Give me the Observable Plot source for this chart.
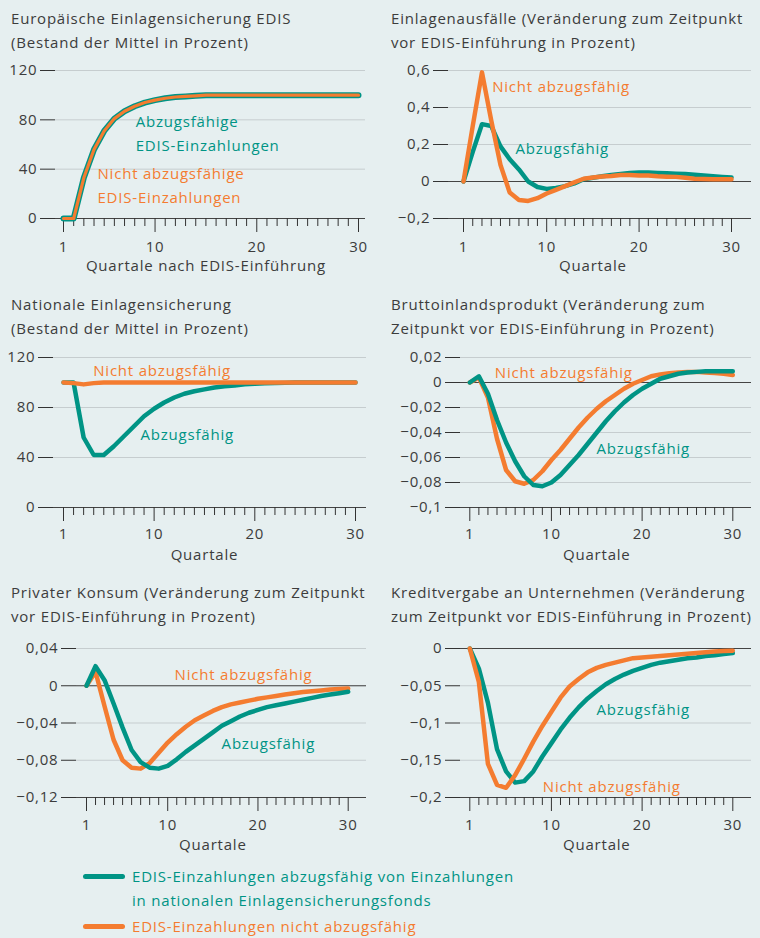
<!DOCTYPE html>
<html><head><meta charset="utf-8">
<script src="https://cdn.jsdelivr.net/npm/d3@7"></script>
<script src="https://cdn.jsdelivr.net/npm/@observablehq/plot@0.6"></script>
<style>
html,body{margin:0;padding:0;}
body{background:#e6eff0;width:760px;height:938px;position:relative;overflow:hidden;font-family:"Open Sans",sans-serif;letter-spacing:0.8px;}
.title{position:absolute;font-size:15px;line-height:24px;color:#3c3c3c;white-space:nowrap;}
.panel{position:absolute;}
.leg{position:absolute;font-size:15px;line-height:24px;white-space:nowrap;}
.legline{position:absolute;height:5px;border-radius:3px;width:42px;left:83px;}
</style></head><body>
<script>
const TEAL = "#009485", ORANGE = "#f47c30";

// x categories: quarters after EDIS introduction
const quarters = [1,2,3,4,5,6,7,8,9,10,11,12,13,14,15,16,17,18,19,20,21,22,23,24,25,26,27,28,29,30];
const majorTicks = [1, 10, 20, 30];
const minorTicks = [2,3,4,5,6,7,8,9,11,12,13,14,15,16,17,18,19,21,22,23,24,25,26,27,28,29];

// Panel 1: Europäische Einlagensicherung EDIS
const edisAbz   = [0,0,33,56,71,81,87,91,94,96,97.5,98.5,99,99.5,100,100,100,100,100,100,100,100,100,100,100,100,100,100,100,100];
const edisNicht = [0,0,33,56,71,81,87,91,94,96,97.5,98.5,99,99.5,100,100,100,100,100,100,100,100,100,100,100,100,100,100,100,100];
const edisTicks = [0, 40, 80, 120];

// Panel 2: Einlagenausfälle
const ausfAbz   = [0,0.16,0.31,0.30,0.19,0.12,0.065,0.0,-0.03,-0.04,-0.035,-0.025,-0.01,0.012,0.02,0.028,0.035,0.04,0.046,0.048,0.048,0.046,0.044,0.042,0.04,0.036,0.032,0.028,0.025,0.022];
const ausfNicht = [0,0.3,0.59,0.33,0.09,-0.06,-0.1,-0.105,-0.09,-0.065,-0.045,-0.025,-0.005,0.015,0.022,0.027,0.03,0.035,0.035,0.033,0.032,0.028,0.026,0.025,0.02,0.015,0.013,0.012,0.012,0.012];
const ausfTicks = [-0.2, 0, 0.2, 0.4, 0.6];

// Panel 3: Nationale Einlagensicherung
const natAbz   = [100,100,56,42,42,49,57,65,73,79,84,88,91,93,94.5,96,97,97.5,98.5,99,99.3,99.5,99.7,100,100,100,100,100,100,100];
const natNicht = [100,99.5,98.5,99.5,100,100,100,100,100,100,100,100,100,100,100,100,100,100,100,100,100,100,100,100,100,100,100,100,100,100];
const natTicks = [0, 40, 80, 120];

// Panel 4: Bruttoinlandsprodukt
const bipAbz   = [0,0.005,-0.009,-0.03,-0.048,-0.063,-0.075,-0.082,-0.083,-0.08,-0.074,-0.066,-0.058,-0.049,-0.04,-0.031,-0.023,-0.016,-0.01,-0.005,-0.001,0.003,0.005,0.007,0.008,0.0085,0.009,0.009,0.009,0.009];
const bipNicht = [0,0.004,-0.012,-0.045,-0.07,-0.079,-0.081,-0.078,-0.071,-0.062,-0.054,-0.045,-0.036,-0.028,-0.021,-0.015,-0.01,-0.005,-0.001,0.002,0.005,0.0065,0.0075,0.008,0.0085,0.0085,0.008,0.0075,0.007,0.006];
const bipTicks = [-0.1, -0.08, -0.06, -0.04, -0.02, 0, 0.02];

// Panel 5: Privater Konsum
const konAbz   = [0,0.021,0.006,-0.019,-0.045,-0.069,-0.082,-0.088,-0.089,-0.086,-0.079,-0.071,-0.064,-0.057,-0.05,-0.043,-0.038,-0.033,-0.029,-0.026,-0.023,-0.021,-0.019,-0.017,-0.015,-0.013,-0.011,-0.0095,-0.008,-0.0065];
const konNicht = [0,0.015,-0.022,-0.058,-0.08,-0.088,-0.089,-0.083,-0.072,-0.061,-0.052,-0.044,-0.037,-0.032,-0.027,-0.023,-0.02,-0.018,-0.016,-0.014,-0.0125,-0.011,-0.0095,-0.008,-0.0068,-0.0058,-0.005,-0.004,-0.0035,-0.003];
const konTicks = [-0.12, -0.08, -0.04, 0, 0.04];

// Panel 6: Kreditvergabe an Unternehmen
const kredAbz   = [0,-0.027,-0.073,-0.135,-0.165,-0.18,-0.178,-0.165,-0.145,-0.127,-0.109,-0.093,-0.079,-0.067,-0.057,-0.048,-0.041,-0.035,-0.03,-0.026,-0.022,-0.019,-0.017,-0.015,-0.013,-0.012,-0.01,-0.009,-0.0075,-0.006];
const kredNicht = [0,-0.045,-0.155,-0.183,-0.187,-0.17,-0.148,-0.125,-0.104,-0.085,-0.066,-0.051,-0.041,-0.032,-0.026,-0.022,-0.019,-0.016,-0.013,-0.012,-0.011,-0.01,-0.009,-0.008,-0.007,-0.006,-0.005,-0.004,-0.0035,-0.003];
const kredTicks = [-0.2, -0.15, -0.1, -0.05, 0];

const titles = [
  ["Europäische Einlagensicherung EDIS", "(Bestand der Mittel in Prozent)"],
  ["Einlagenausfälle (Veränderung zum Zeitpunkt", "vor EDIS-Einführung in Prozent)"],
  ["Nationale Einlagensicherung", "(Bestand der Mittel in Prozent)"],
  ["Bruttoinlandsprodukt (Veränderung zum", "Zeitpunkt vor EDIS-Einführung in Prozent)"],
  ["Privater Konsum (Veränderung zum Zeitpunkt", "vor EDIS-Einführung in Prozent)"],
  ["Kreditvergabe an Unternehmen (Veränderung", "zum Zeitpunkt vor EDIS-Einführung in Prozent)"]
];
const xLabels = ["Quartale nach EDIS-Einführung", "Quartale", "Quartale", "Quartale", "Quartale", "Quartale"];

const labelAbz = "Abzugsfähig", labelNicht = "Nicht abzugsfähig";
const annotations = [
  [{q: 8.1, v: 70.6, t: "Abzugsfähige\nEDIS-Einzahlungen", c: TEAL}, {q: 4.34, v: 28.4, t: "Nicht abzugsfähige\nEDIS-Einzahlungen", c: ORANGE}],
  [{q: 4.1, v: 0.524, t: labelNicht, c: ORANGE}, {q: 6.63, v: 0.19, t: labelAbz, c: TEAL}],
  [{q: 3.95, v: 111, t: labelNicht, c: ORANGE}, {q: 8.65, v: 60.2, t: labelAbz, c: TEAL}],
  [{q: 3.76, v: 0.0096, t: labelNicht, c: ORANGE}, {q: 14.97, v: -0.051, t: labelAbz, c: TEAL}],
  [{q: 10.76, v: 0.0143, t: labelNicht, c: ORANGE}, {q: 15.97, v: -0.0598, t: labelAbz, c: TEAL}],
  [{q: 14.97, v: -0.0783, t: labelAbz, c: TEAL}, {q: 9.05, v: -0.182, t: labelNicht, c: ORANGE}]
];

const legendItems = [
  {c: TEAL, lines: ["EDIS-Einzahlungen abzugsfähig von Einzahlungen", "in nationalen Einlagensicherungsfonds"]},
  {c: ORANGE, lines: ["EDIS-Einzahlungen nicht abzugsfähig"]}
];

// layout (pixels)
const layout = [
  {left: 0,   titleTop: 6,   gridTop: 70,    gridBottom: 218,   ml: 55, mr: 15, x1: 63,   x30: 358,   tickPad: 9},
  {left: 380, titleTop: 6,   gridTop: 70,    gridBottom: 218,   ml: 68, mr: 9,  x1: 83,   x30: 351,   tickPad: 9},
  {left: 0,   titleTop: 292, gridTop: 357,   gridBottom: 507,   ml: 53, mr: 14, x1: 63,   x30: 355,   tickPad: 7},
  {left: 380, titleTop: 292, gridTop: 357,   gridBottom: 507,   ml: 80, mr: 9,  x1: 89.3, x30: 352.3, tickPad: 7},
  {left: 0,   titleTop: 580, gridTop: 647.7, gridBottom: 796.7, ml: 76, mr: 14, x1: 86,   x30: 347.7, tickPad: 7.5},
  {left: 380, titleTop: 580, gridTop: 647.7, gridBottom: 796.7, ml: 80, mr: 9,  x1: 89.3, x30: 352.3, tickPad: 7.5}
];
const seriesSets = [
  [edisAbz, edisNicht, edisTicks, "nicht"],
  [ausfAbz, ausfNicht, ausfTicks, "nicht"],
  [natAbz, natNicht, natTicks, "nicht"],
  [bipAbz, bipNicht, bipTicks, "abz"],
  [konAbz, konNicht, konTicks, "abz"],
  [kredAbz, kredNicht, kredTicks, "nicht"]
];

const fmt = d => d === 0 ? "0" : (d < 0 ? "\u2212" : "") + String(Math.abs(d)).replace(".", ",");

layout.forEach((L, i) => {
  const [abz, nicht, ticks, onTop] = seriesSets[i];
  const t = document.createElement("div");
  t.className = "title";
  t.style.left = (L.left + 11) + "px";
  t.style.top = L.titleTop + "px";
  t.innerHTML = titles[i].join("<br>");
  document.body.appendChild(t);

  const dA = quarters.map((q, k) => ({q, v: abz[k]}));
  const dN = quarters.map((q, k) => ({q, v: nicht[k]}));
  const yMin = d3.min(ticks), yMax = d3.max(ticks);
  const mt = 10, mb = 62;
  const height = mt + (L.gridBottom - L.gridTop) + mb;

  const lineA = Plot.line(dA, {x: "q", y: "v", stroke: TEAL, strokeWidth: i === 0 ? 6 : 4.5, strokeLinejoin: "round", strokeLinecap: "round"});
  const lineN = Plot.line(dN, {x: "q", y: "v", stroke: ORANGE, strokeWidth: i === 0 ? 3.2 : 4.5, strokeLinejoin: "round", strokeLinecap: "round"});

  const chart = Plot.plot({
    width: 380,
    height,
    marginTop: mt,
    marginBottom: mb,
    marginLeft: L.ml,
    marginRight: L.mr,
    style: {background: "transparent", color: "#3c3c3c", fontFamily: "'Open Sans', sans-serif", fontSize: "15px", overflow: "visible", letterSpacing: "0.8px"},
    x: {domain: [1, 30], range: [L.x1, L.x30], label: null},
    y: {domain: [yMin, yMax], label: null},
    marks: [
      Plot.ruleY(ticks, {stroke: "#c6cdcf", strokeWidth: 1}),
      Plot.ruleY([0, yMin], {stroke: "#444", strokeWidth: 1}),
      Plot.axisY({ticks, tickSize: 15, tickPadding: 3, tickFormat: fmt, fontSize: 15, label: null, stroke: "#333"}),
      Plot.axisX({ticks: majorTicks, tickSize: 14, tickPadding: L.tickPad, tickFormat: d => String(d), fontSize: 15, label: null, stroke: "#333"}),
      Plot.axisX({ticks: minorTicks, tickSize: 8, tickFormat: () => "", label: null, stroke: "#333"}),
      Plot.text([{q: 15, t: xLabels[i]}], {x: "q", text: "t", frameAnchor: "bottom", dy: 48, lineAnchor: "middle", fontSize: 15, fill: "#3c3c3c"}),
      ...(onTop === "nicht" ? [lineA, lineN] : [lineN, lineA]),
      Plot.text(annotations[i], {x: "q", y: "v", text: "t", fill: "c", textAnchor: "start", lineAnchor: "middle", lineHeight: 1.6, fontSize: 15})
    ]
  });
  const wrap = document.createElement("div");
  wrap.className = "panel";
  wrap.style.left = L.left + "px";
  wrap.style.top = (L.gridTop - mt) + "px";
  wrap.appendChild(chart);
  document.body.appendChild(wrap);
});

// legend
let legTop = 864;
legendItems.forEach(item => {
  const ln = document.createElement("div");
  ln.className = "legline";
  ln.style.background = item.c;
  ln.style.top = (legTop + 12 - 2.5) + "px";
  document.body.appendChild(ln);
  const tx = document.createElement("div");
  tx.className = "leg";
  tx.style.left = "132px";
  tx.style.top = legTop + "px";
  tx.style.color = item.c;
  tx.innerHTML = item.lines.join("<br>");
  document.body.appendChild(tx);
  legTop += 24 * item.lines.length + 2;
});
</script>
</body></html>
